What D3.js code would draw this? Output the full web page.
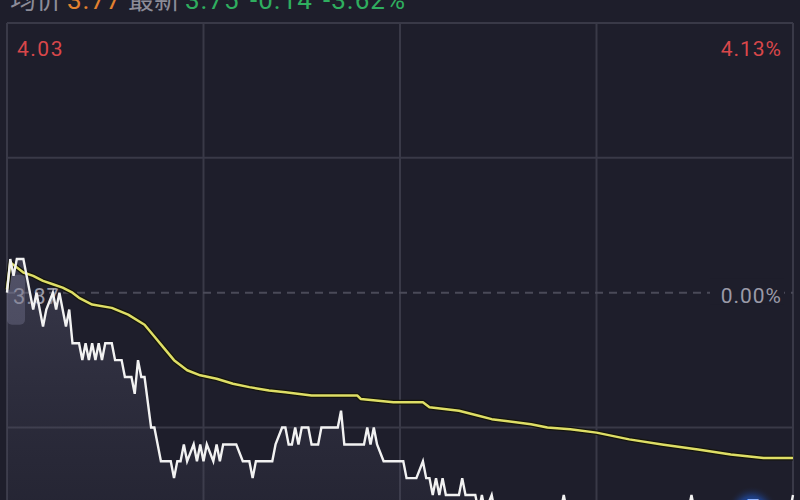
<!DOCTYPE html>
<html><head><meta charset="utf-8">
<script src="https://cdn.jsdelivr.net/npm/d3@7"></script>
<style>
html,body{margin:0;padding:0;background:#1e1e2b;overflow:hidden;}
svg{display:block;}
</style></head>
<body>
<svg id="chart" width="800" height="500"></svg>
<script>
// ---- data ----
const priceMinutes = [0,1,2,3,5,6,8,9,11,12,14,15,16,18,19,20,22,23,24,25,26,27,28,29,30,32,33,35,36,38,39,40,41,42,44,45,47,50,51,52,53,54,55,57,58,59,60,61,63,64,65,66,70,72,74,75,76,81,82,84,85,86,87,88,89,90,92,93,95,96,101,102,103,109,110,111,112,113,115,121,122,125,127,128,129,130,131,132,133,134,138,139,140,143,144,145,146,148,149,169,170,171,208,209,210,239,240];
const priceValues  = [3.87,3.89,3.88,3.89,3.89,3.88,3.86,3.87,3.85,3.86,3.87,3.86,3.87,3.85,3.86,3.84,3.84,3.83,3.84,3.83,3.84,3.83,3.84,3.83,3.84,3.84,3.83,3.83,3.82,3.82,3.81,3.83,3.82,3.82,3.79,3.79,3.77,3.77,3.76,3.77,3.77,3.78,3.77,3.78,3.77,3.78,3.77,3.78,3.77,3.78,3.77,3.78,3.78,3.77,3.77,3.76,3.77,3.77,3.78,3.79,3.79,3.78,3.78,3.79,3.78,3.79,3.79,3.78,3.78,3.79,3.79,3.80,3.78,3.78,3.79,3.78,3.79,3.78,3.77,3.77,3.76,3.76,3.77,3.76,3.76,3.75,3.76,3.75,3.76,3.75,3.75,3.76,3.75,3.75,3.74,3.75,3.74,3.75,3.74,3.74,3.75,3.74,3.74,3.75,3.74,3.74,3.75];
const avgMinutes = [0,1,5,8,11,14,17,20,22,26,32,37,42,45,48,51,55,59,64,69,74,80,85,93,107,108,118,127,129,138,144,148,160,165,172,180,190,200,211,221,231,240];
const avgValues  = [3.872,3.888,3.882,3.880,3.877,3.875,3.873,3.870,3.867,3.863,3.861,3.857,3.851,3.844,3.837,3.830,3.824,3.821,3.819,3.816,3.814,3.812,3.811,3.809,3.809,3.807,3.805,3.805,3.802,3.800,3.797,3.795,3.792,3.790,3.789,3.787,3.783,3.780,3.777,3.774,3.772,3.772];
const priceTicks = [4.03, 3.95, 3.87, 3.79];
const timeTicks = [0, 60, 120, 180, 240];
const prevClose = 3.87;
const headerItems = [
  {text:"均价", kind:"label"}, {text:"3.77", kind:"avg"},
  {text:"最新", kind:"label"}, {text:"3.75", kind:"down"},
  {text:"-0.14", kind:"down"}, {text:"-3.62%", kind:"down"}
];
const topLeftLabel = "4.03";
const topRightLabel = "4.13%";
const midRightLabel = "0.00%";
const midLeftLabel = "3.87";

// ---- layout ----
const svg = d3.select("#chart");
const plotLeft = 7, plotRight = 793, plotTop = 23;
const x = d3.scaleLinear().domain([0, 240]).range([plotLeft, plotRight]);
const y = d3.scaleLinear().domain([3.75, 4.03]).range([495, plotTop]);

svg.append("rect").attr("width", 800).attr("height", 500).attr("fill", "#1e1e2b");

// header (cut by the top edge, as in the source)
const headerX = [10, 67, 128, 185, 250, 323];
const headerColor = {label:"#8c8c98", avg:"#e3812f", down:"#2fae5f"};
const hdr = svg.append("text").attr("y", 9).attr("font-size", 26);
headerItems.forEach((d,i) => {
  hdr.append("tspan").attr("x", headerX[i]).attr("fill", headerColor[d.kind])
    .attr("font-family", d.kind==="label" ? "'Noto Sans CJK SC', sans-serif" : "Roboto, sans-serif")
    .attr("letter-spacing", d.kind==="label" ? 0 : 1)
    .text(d.text);
});

// grid
const grid = svg.append("g");
grid.selectAll("line.v").data(timeTicks).join("line")
  .attr("x1", d => x(d)).attr("x2", d => x(d))
  .attr("y1", plotTop).attr("y2", 500)
  .attr("stroke", "#393947").attr("stroke-width", 2);
grid.selectAll("line.h").data(priceTicks.filter(d => d !== prevClose)).join("line")
  .attr("x1", plotLeft).attr("x2", plotRight)
  .attr("y1", d => y(d)).attr("y2", d => y(d))
  .attr("stroke", "#393947").attr("stroke-width", 2);
grid.append("line")
  .attr("x1", plotLeft).attr("x2", plotRight)
  .attr("y1", y(prevClose)).attr("y2", y(prevClose))
  .attr("stroke", "#4a4a58").attr("stroke-width", 2)
  .attr("stroke-dasharray", "8,6");

// left 3.87 label with box
svg.append("rect").attr("x", plotLeft).attr("y", y(prevClose) - 18)
  .attr("width", 18).attr("height", 50).attr("rx", 5)
  .attr("fill", "rgba(140,140,170,0.35)");
svg.append("text").attr("x", 13).attr("y", y(prevClose) + 11)
  .attr("font-family", "Roboto, sans-serif").attr("font-size", 22)
  .attr("fill", "#9a9aa8").attr("letter-spacing", 1).text(midLeftLabel);

// area under price
const priceData = priceMinutes.map((m,i) => ({m, v: priceValues[i]}));
const avgData = avgMinutes.map((m,i) => ({m, v: avgValues[i]}));
const defs = svg.append("defs");
const grad = defs.append("linearGradient").attr("id", "ag").attr("x1", 0).attr("x2", 0).attr("y1", 0).attr("y2", 1);
grad.append("stop").attr("offset", "0%").attr("stop-color", "#6a6a85").attr("stop-opacity", 0.35);
grad.append("stop").attr("offset", "100%").attr("stop-color", "#4a4a60").attr("stop-opacity", 0.15);
svg.append("path").datum(priceData)
  .attr("d", d3.area().x(d => x(d.m)).y0(520).y1(d => y(d.v)))
  .attr("fill", "url(#ag)");

// avg line (with dark outline)
const avgLine = d3.line().x(d => x(d.m)).y(d => y(d.v));
svg.append("path").datum(avgData).attr("d", avgLine)
  .attr("fill", "none").attr("stroke", "#15150c").attr("stroke-width", 5).attr("stroke-linejoin", "round");
svg.append("path").datum(avgData).attr("d", avgLine)
  .attr("fill", "none").attr("stroke", "#dede66").attr("stroke-width", 2.5).attr("stroke-linejoin", "round");

// price line
svg.append("path").datum(priceData)
  .attr("d", d3.line().x(d => x(d.m)).y(d => y(d.v)))
  .attr("fill", "none").attr("stroke", "#f2f2f2").attr("stroke-width", 2.4).attr("stroke-linejoin", "miter");

// right labels
svg.append("rect").attr("x", 710).attr("y", y(prevClose) - 14).attr("width", 74).attr("height", 26).attr("fill", "#1e1e2b");
svg.append("text").attr("x", 782).attr("y", y(prevClose) + 10).attr("text-anchor", "end")
  .attr("font-family", "Roboto, sans-serif").attr("font-size", 21).attr("letter-spacing", 1)
  .attr("fill", "#9a9aa8").text(midRightLabel);
svg.append("text").attr("x", 782).attr("y", 56).attr("text-anchor", "end")
  .attr("font-family", "Roboto, sans-serif").attr("font-size", 21).attr("letter-spacing", 1)
  .attr("fill", "#d9474a").text(topRightLabel);
svg.append("text").attr("x", 17).attr("y", 56)
  .attr("font-family", "Roboto, sans-serif").attr("font-size", 21).attr("letter-spacing", 1.5)
  .attr("fill", "#d9474a").text(topLeftLabel);

// blue badge bottom right
const bg = defs.append("radialGradient").attr("id", "bb");
bg.append("stop").attr("offset", "0%").attr("stop-color", "#2f6fe0").attr("stop-opacity", 0.9);
bg.append("stop").attr("offset", "60%").attr("stop-color", "#1f4fb0").attr("stop-opacity", 0.6);
bg.append("stop").attr("offset", "100%").attr("stop-color", "#1e1e2b").attr("stop-opacity", 0);
svg.append("circle").attr("cx", 752).attr("cy", 512).attr("r", 26).attr("fill", "url(#bb)");
svg.append("text").attr("x", 752).attr("y", 520).attr("text-anchor", "middle")
  .attr("font-family", "Roboto, sans-serif").attr("font-size", 30).attr("fill", "#8fb4ff").text("5");
</script>
</body></html>
